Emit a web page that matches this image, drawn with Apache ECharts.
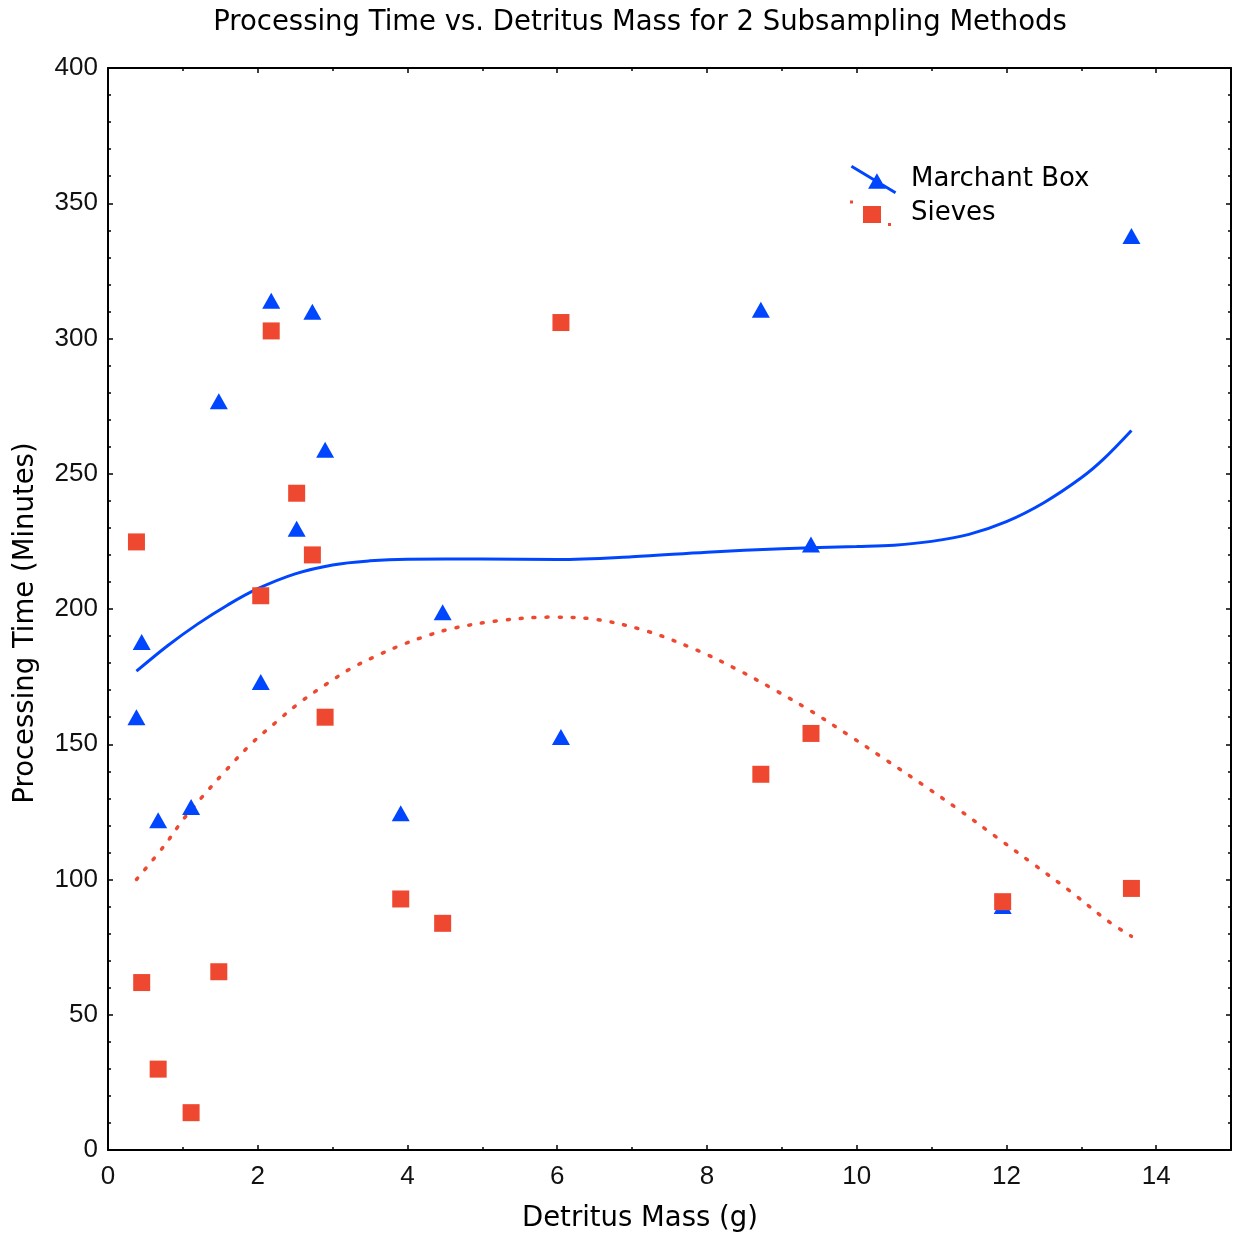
<!DOCTYPE html>
<html>
<head>
<meta charset="utf-8">
<script src="https://cdn.jsdelivr.net/npm/echarts@6/dist/echarts.min.js"></script>
<style>
html,body{margin:0;padding:0;background:#fff;}
#chart{width:1233px;height:1239px;}
</style>
</head>
<body>
<div id="chart"></div>
<script>
// ---- Data ----
const titleText = 'Processing Time vs. Detritus Mass for 2 Subsampling Methods';
const xAxisName = 'Detritus Mass (g)';
const yAxisName = 'Processing Time (Minutes)';
const seriesNames = ['Marchant Box', 'Sieves'];

// detritus mass (g) of each sample (shared by both methods)
const detritusMass = [0.38, 0.45, 0.67, 1.11, 1.48, 2.04, 2.18, 2.52, 2.73, 2.9, 3.91, 4.47, 6.05, 8.72, 9.39, 11.95, 13.67];
// processing time (minutes)
const marchantTime = [160, 187.8, 121.9, 126.8, 276.8, 173, 314, 229.7, 309.9, 258.9, 124.5, 198.8, 152.7, 310.6, 223.8, 90.2, 337.9];
const sievesTime   = [224.8, 61.9, 29.9, 13.8, 65.9, 204.9, 302.8, 242.8, 220, 160, 92.8, 83.8, 305.9, 138.9, 154, 91.8, 96.7];

// fitted curves
const marchantFitX = [0.38, 0.8, 1.2, 1.6, 2.0, 2.5, 3.0, 3.5, 4.0, 5.0, 6.0, 7.0, 8.0, 9.0, 10.0, 10.5, 11.0, 11.5, 12.0, 12.5, 13.0, 13.3, 13.67];
const marchantFitY = [177, 186.5, 194.5, 201.5, 207.5, 213, 216.3, 217.8, 218.4, 218.5, 218.3, 219.3, 221, 222.3, 223.1, 223.6, 225, 227.6, 232.3, 239.3, 248.5, 255.5, 266];
const sievesFitX = [0.38, 0.76, 1.0, 1.27, 1.58, 1.91, 2.25, 2.56, 2.92, 3.25, 3.58, 3.92, 4.25, 4.6, 5.2, 5.9, 6.5, 7.2, 7.89, 8.42, 8.91, 9.4, 9.89, 10.38, 10.89, 11.38, 11.87, 12.36, 12.86, 13.35, 13.67];
const sievesFitY = [100, 112.8, 122, 130.9, 140.5, 150.1, 158.3, 165.4, 172.3, 178.1, 182.6, 186.7, 190, 192.8, 195.6, 197, 196.2, 191.8, 184.5, 177.4, 170, 162.1, 153.4, 144.4, 134.9, 125.5, 115.6, 105.7, 95.5, 84.8, 79];

const xMin = 0, xMax = 15, xStep = 2;
const yMin = 0, yMax = 400, yStep = 50;

// ---- Styles ----
const BLUE = '#0046ff';
const RED = '#ef4830';
const TEXT_FONT = '"DejaVu Sans", sans-serif';
const NUM_FONT = '"Liberation Sans", Arial, sans-serif';

const zip = (a, b) => a.map((v, i) => [v, b[i]]);

const iconMarchant = 'path://M0,0 L0,0 Z M47,29 L47,29 Z M1.77,-0.29 L46.77,26.71 L45.23,29.29 L0.23,2.29 Z M27,8 L36,24 L18,24 Z';
const iconSieves = 'path://M0,0 L0,0 Z M47,29 L47,29 Z M0,1.5 L3,1.5 L3,4.5 L0,4.5 Z M13,7 L31,7 L31,24 L13,24 Z M38,24 L41,24 L41,27 L38,27 Z';

function mainX(pos, showLabel) {
  return {
    type: 'value', position: pos, min: xMin, max: xMax, interval: xStep,
    axisLine: { show: true, onZero: false, lineStyle: { color: '#000', width: 2 } },
    axisTick: { show: true, inside: true, length: 5, lineStyle: { color: '#000', width: 1.5 } },
    axisLabel: { show: showLabel, showMaxLabel: false, margin: 14, color: '#111', fontSize: 26, fontFamily: NUM_FONT },
    splitLine: { show: false }
  };
}
function minorX(pos) {
  return {
    type: 'value', position: pos, min: xMin, max: xMax, interval: 1,
    axisLine: { show: false, onZero: false },
    axisTick: { show: true, inside: true, length: 3, lineStyle: { color: '#000', width: 1.5 } },
    axisLabel: { show: false },
    splitLine: { show: false }
  };
}
function mainY(pos, showLabel) {
  return {
    type: 'value', position: pos, min: yMin, max: yMax, interval: yStep,
    axisLine: { show: true, onZero: false, lineStyle: { color: '#000', width: 2 } },
    axisTick: { show: true, inside: true, length: 5, lineStyle: { color: '#000', width: 1.5 } },
    minorTick: { show: true, splitNumber: 5, length: 3, lineStyle: { color: '#000', width: 1.5 } },
    axisLabel: { show: showLabel, margin: 10, color: '#111', fontSize: 26, fontFamily: NUM_FONT },
    splitLine: { show: false },
    minorSplitLine: { show: false }
  };
}

const chart = echarts.init(document.getElementById('chart'), null, { renderer: 'canvas' });
chart.setOption({
  animation: false,
  backgroundColor: '#fff',
  grid: { left: 108, right: 2, top: 68, bottom: 89, containLabel: false },
  xAxis: [mainX('bottom', true), mainX('top', false), minorX('bottom'), minorX('top')],
  yAxis: [mainY('left', true), mainY('right', false)],
  legend: {
    orient: 'vertical', left: 850, top: 165, padding: 0,
    itemWidth: 47, itemHeight: 29, itemGap: 5, selectedMode: false,
    data: [{ name: seriesNames[0], icon: iconMarchant }, { name: seriesNames[1], icon: iconSieves }],
    textStyle: { color: '#000', fontSize: 26, fontFamily: TEXT_FONT, padding: [0, 0, 0, 9] }
  },
  graphic: [
    { type: 'text', x: 640, y: 23, style: { text: titleText, fill: '#000', fontSize: 27.5, fontFamily: TEXT_FONT, align: 'center', verticalAlign: 'middle' } },
    { type: 'text', x: 640, y: 1219, style: { text: xAxisName, fill: '#000', fontSize: 27.5, fontFamily: TEXT_FONT, align: 'center', verticalAlign: 'middle' } },
    { type: 'text', x: 26, y: 623, rotation: Math.PI / 2, style: { text: yAxisName, fill: '#000', fontSize: 27.5, fontFamily: TEXT_FONT, align: 'center', verticalAlign: 'middle' } }
  ],
  series: [
    {
      name: 'Marchant Box fit', type: 'line', data: zip(marchantFitX, marchantFitY),
      smooth: 0.35, showSymbol: false, silent: true, z: 2,
      lineStyle: { color: BLUE, width: 3 }
    },
    {
      name: 'Sieves fit', type: 'line', data: zip(sievesFitX, sievesFitY),
      smooth: 0.35, showSymbol: false, silent: true, z: 2,
      lineStyle: { color: RED, width: 3.5, type: [2, 11], cap: 'round' }
    },
    {
      name: seriesNames[0], type: 'scatter', data: zip(detritusMass, marchantTime),
      symbol: 'triangle', symbolSize: [18, 16], z: 3,
      itemStyle: { color: BLUE, opacity: 1 }
    },
    {
      name: seriesNames[1], type: 'scatter', data: zip(detritusMass, sievesTime),
      symbol: 'rect', symbolSize: 17, z: 4,
      itemStyle: { color: RED, opacity: 1 }
    }
  ]
});
</script>
</body>
</html>
